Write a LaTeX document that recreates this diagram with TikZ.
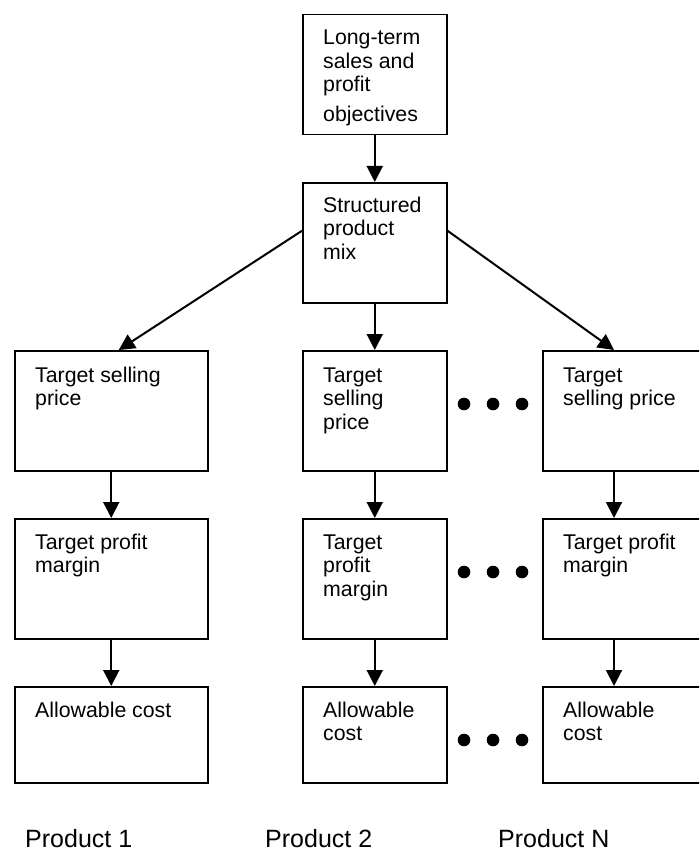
\documentclass[tikz,border=0pt]{standalone}
\usepackage{fontspec}
\setmainfont{Liberation Sans}
\usetikzlibrary{arrows.meta}
\begin{document}
\begin{tikzpicture}[x=1pt,y=-1pt,
  box/.style 2 args={draw, line width=1.5pt, anchor=north west, inner sep=0pt,
    minimum width=#1, minimum height=#2},
  boxtext/.style={anchor=base west, inner sep=0pt, font=\fontsize{21.3}{23.5}\selectfont},
  prodtext/.style={anchor=base west, inner sep=0pt, font=\fontsize{25}{30}\selectfont},
  flow/.style={line width=2pt, -{Triangle[length=16pt,width=16pt]}},
  dot/.style={circle, fill, inner sep=0pt, minimum size=12.6pt}]
\useasboundingbox (0,0) rectangle (699,853);
\clip (0,0) rectangle (699,853);

% top of the hierarchy
\node[box={144pt}{120pt}] (obj) at (302,14) {};
\node[box={144pt}{120pt}] (mix) at (302,182) {};

% product columns
\node[box={193pt}{120pt}] (ts1) at (14,350) {};
\node[box={144pt}{120pt}] (ts2) at (302,350) {};
\node[box={193pt}{120pt}] (tsN) at (542,350) {};
\node[box={193pt}{120pt}] (tp1) at (14,518) {};
\node[box={144pt}{120pt}] (tp2) at (302,518) {};
\node[box={193pt}{120pt}] (tpN) at (542,518) {};
\node[box={193pt}{96pt}] (ac1) at (14,686) {};
\node[box={144pt}{96pt}] (ac2) at (302,686) {};
\node[box={193pt}{96pt}] (acN) at (542,686) {};

% box texts
\node[boxtext] (objT) at ([shift={(21pt,-31pt)}]obj.north west)
  {\parbox[t]{140pt}{Long-term\\sales and\\profit\\[6pt]objectives}};
\node[boxtext] (mixT) at ([shift={(21pt,-30pt)}]mix.north west)
  {\parbox[t]{140pt}{Structured\\product\\mix}};
\node[boxtext] (ts1T) at ([shift={(21pt,-32pt)}]ts1.north west)
  {\parbox[t]{170pt}{Target selling\\price}};
\node[boxtext] (ts2T) at ([shift={(21pt,-32pt)}]ts2.north west)
  {\parbox[t]{140pt}{Target\\selling\\price}};
\node[boxtext] (tsNT) at ([shift={(21pt,-32pt)}]tsN.north west)
  {\parbox[t]{170pt}{Target\\selling price}};
\node[boxtext] (tp1T) at ([shift={(21pt,-31pt)}]tp1.north west)
  {\parbox[t]{170pt}{Target profit\\margin}};
\node[boxtext] (tp2T) at ([shift={(21pt,-31pt)}]tp2.north west)
  {\parbox[t]{140pt}{Target\\profit\\margin}};
\node[boxtext] (tpNT) at ([shift={(21pt,-31pt)}]tpN.north west)
  {\parbox[t]{170pt}{Target profit\\margin}};
\node[boxtext] (ac1T) at ([shift={(21pt,-31pt)}]ac1.north west)
  {\parbox[t]{170pt}{Allowable cost}};
\node[boxtext] (ac2T) at ([shift={(21pt,-31pt)}]ac2.north west)
  {\parbox[t]{140pt}{Allowable\\cost}};
\node[boxtext] (acNT) at ([shift={(21pt,-31pt)}]acN.north west)
  {\parbox[t]{170pt}{Allowable\\cost}};

% connectors
\draw[flow] (obj) -- (mix);
\draw[flow] (mix) -- (ts2);
\draw[flow] ([yshift=12pt]mix.west) -- ([xshift=7.5pt]ts1.north);
\draw[flow] ([yshift=12pt]mix.east) -- ([xshift=72pt]tsN.north west);
\draw[flow] (ts1) -- (tp1);
\draw[flow] (tp1) -- (ac1);
\draw[flow] (ts2) -- (tp2);
\draw[flow] (tp2) -- (ac2);
\draw[flow] ([xshift=72pt]tsN.south west) -- ([xshift=72pt]tpN.north west);
\draw[flow] ([xshift=72pt]tpN.south west) -- ([xshift=72pt]acN.north west);

% ellipsis dots between columns
\foreach \r/\yy in {a/404, b/572, c/740}
  \foreach \k/\xx in {1/464, 2/493, 3/522}
    \node[dot] (dot\r\k) at (\xx,\yy) {};

% product captions
\node[prodtext] (p1) at (25,847) {Product 1};
\node[prodtext] (p2) at (265,847) {Product 2};
\node[prodtext] (pN) at (498,847) {Product N};
\end{tikzpicture}
\end{document}
